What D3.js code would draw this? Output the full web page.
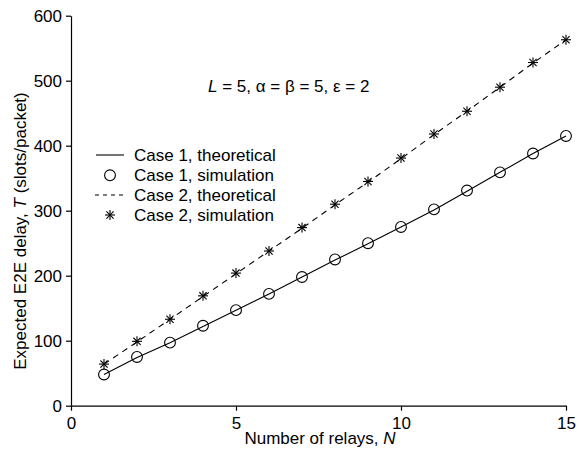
<!DOCTYPE html>
<html><head><meta charset="utf-8">
<script src="https://cdn.jsdelivr.net/npm/d3@7"></script>
<style>body{margin:0;background:#fff}svg{display:block}text{font-family:"Liberation Sans",Arial,sans-serif}</style>
</head><body><svg id="c" width="578" height="456"></svg>
<script>
const relays = [1,2,3,4,5,6,7,8,9,10,11,12,13,14,15];
const case1Theory = [48,74,97,122,147,172,198,224,249,275,301,330,359,388,415];
const case1Sim    = [48,75,97,123,147,172,198,225,250,275,302,331,359,388,415];
const case2Theory = [64,98,133,168,203,238,273,309,344,380,417,453,490,527,563];
const case2Sim    = [64,99,133,169,204,238,274,310,345,381,418,453,490,528,563];
const xTicks = [0,5,10,15];
const yTicks = [0,100,200,300,400,500,600];
const legendLabels = ["Case 1, theoretical","Case 1, simulation","Case 2, theoretical","Case 2, simulation"];

const FS = 17;
const svg = d3.select("#c");
const x = d3.scaleLinear().domain([0,15]).range([71,566]);
const y = d3.scaleLinear().domain([0,600]).range([405.7,15.7]);

const xa = svg.append("g").attr("transform","translate(0,405.7)")
  .call(d3.axisBottom(x).tickValues(xTicks).tickSize(5).tickPadding(6).tickSizeOuter(0));
const ya = svg.append("g").attr("transform","translate(71,0)")
  .call(d3.axisLeft(y).tickValues(yTicks).tickSize(5).tickPadding(4).tickSizeOuter(0));
[xa,ya].forEach(a=>{
  a.selectAll("text").attr("font-size",FS).attr("fill","#000").attr("font-family","Liberation Sans, Arial, sans-serif");
  a.selectAll("line,path").attr("stroke","#000").attr("stroke-width",1.2);
});

const line = d3.line().x((d,i)=>x(relays[i])).y(d=>y(d));
svg.append("path").datum(case1Theory).attr("d",line).attr("fill","none").attr("stroke","#000").attr("stroke-width",1.1);
svg.append("path").datum(case2Theory).attr("d",line).attr("fill","none").attr("stroke","#000").attr("stroke-width",1.1).attr("stroke-dasharray","6,5");

svg.append("g").selectAll("circle").data(case1Sim).join("circle")
  .attr("cx",(d,i)=>x(relays[i])).attr("cy",d=>y(d)).attr("r",5.4)
  .attr("fill","none").attr("stroke","#000").attr("stroke-width",1.1);

function asterisk(g,cx,cy,s){
  const d=s*0.72;
  [[0,-s,0,s],[-s,0,s,0],[-d,-d,d,d],[-d,d,d,-d]].forEach(q=>{
    g.append("line").attr("x1",cx+q[0]).attr("y1",cy+q[1]).attr("x2",cx+q[2]).attr("y2",cy+q[3])
      .attr("stroke","#000").attr("stroke-width",1.1);
  });
}
const sg = svg.append("g");
case2Sim.forEach((d,i)=>asterisk(sg, x(relays[i]), y(d), 5));

// annotation
const ann = svg.append("text").attr("x",208).attr("y",92).attr("font-size",FS).attr("fill","#000");
ann.append("tspan").attr("font-style","italic").text("L");
ann.append("tspan").text(" = 5, α = β = 5, ε = 2");

// legend
const lg = svg.append("g");
const rows = [155,175.3,195,215];
legendLabels.forEach((t,i)=>{
  lg.append("text").attr("x",134).attr("y",rows[i]+5.8).attr("font-size",FS).attr("fill","#000").text(t);
});
lg.append("line").attr("x1",96).attr("x2",124).attr("y1",rows[0]).attr("y2",rows[0]).attr("stroke","#000").attr("stroke-width",1.1);
lg.append("circle").attr("cx",110).attr("cy",rows[1]).attr("r",5.4).attr("fill","none").attr("stroke","#000").attr("stroke-width",1.1);
lg.append("line").attr("x1",95).attr("x2",125).attr("y1",rows[2]).attr("y2",rows[2]).attr("stroke","#000").attr("stroke-width",1.1).attr("stroke-dasharray","4,4");
asterisk(lg,110,rows[3],5);

// axis titles
const xt = svg.append("text").attr("x",320).attr("y",444).attr("text-anchor","middle").attr("font-size",FS).attr("fill","#000");
xt.append("tspan").text("Number of relays, ");
xt.append("tspan").attr("font-style","italic").text("N");
const yt = svg.append("text").attr("transform","translate(26,231) rotate(-90)").attr("text-anchor","middle").attr("font-size",FS).attr("fill","#000");
yt.append("tspan").text("Expected E2E delay, ");
yt.append("tspan").attr("font-style","italic").text("T");
yt.append("tspan").text(" (slots/packet)");
</script></body></html>
